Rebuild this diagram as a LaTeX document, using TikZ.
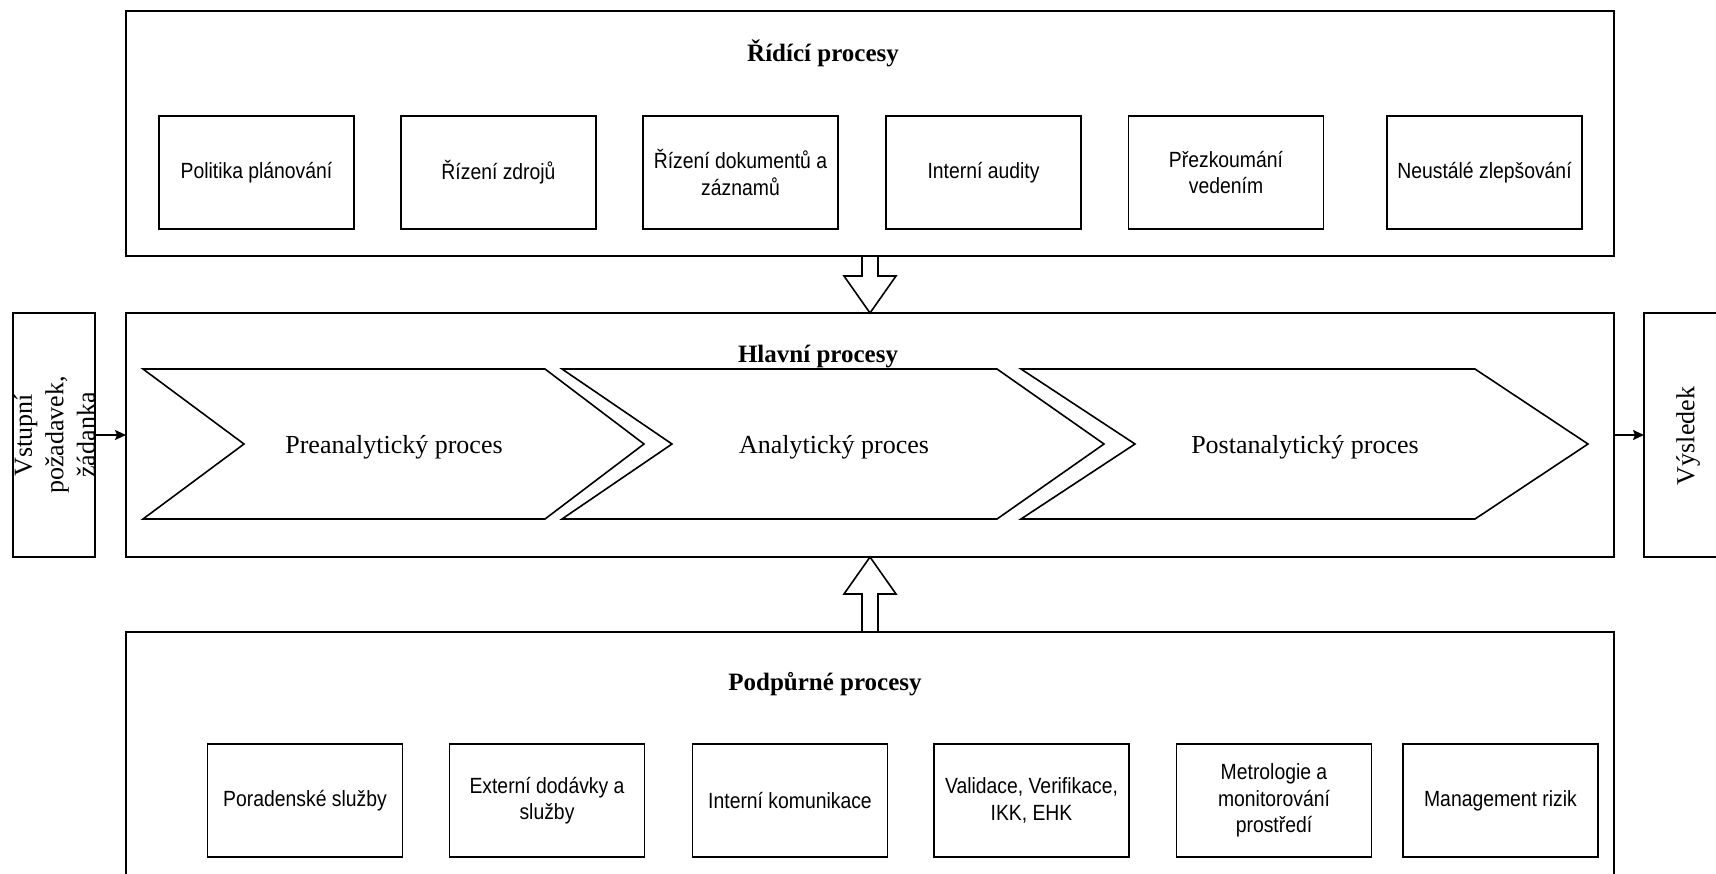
\documentclass[tikz,border=0pt]{standalone}
\usepackage{fontspec}
\setmainfont{Liberation Serif}
\newfontfamily\narrowsans[FakeStretch=0.88]{Liberation Sans}
\usetikzlibrary{arrows.meta,calc}
\begin{document}
\begin{tikzpicture}[x=1pt,y=-1pt,
  line width=1.6pt,
  outerbox/.style={draw, inner sep=0pt, outer sep=0pt, minimum width=1488pt},
  sidebox/.style={draw, inner sep=0pt, outer sep=0pt, minimum height=244pt},
  smallbox/.style={draw, inner sep=2pt, outer sep=0pt, minimum width=195pt, minimum height=113pt,
    align=center, font=\narrowsans\fontsize{22}{26.5}\selectfont},
  titletext/.style={inner sep=0pt, anchor=base, font=\bfseries\fontsize{25}{30}\selectfont},
  chevtext/.style={inner sep=0pt, anchor=base, font=\fontsize{26}{31}\selectfont},
  vtext/.style={inner sep=0pt, rotate=90, align=center, font=\fontsize{26}{31.5}\selectfont},
  chevron/.style={draw, line join=miter},
  blockarrow/.style={draw, fill=white, line join=miter},
  conn/.style={-{Stealth[length=11pt,width=10pt,inset=2pt]}}
]
\useasboundingbox (0,0) rectangle (1716,873);

% outer boxes
\node[outerbox, minimum height=245pt] (top) at (870,133.5) {};
\node[outerbox, minimum height=244pt] (main) at (870,435) {};
\node[outerbox, minimum height=268pt] (bottom) at (870,766) {};
\node[sidebox, minimum width=82pt] (inp) at (54,435) {};
\node[sidebox, minimum width=74pt] (out) at (1681,435) {};

% titles
\node[titletext] (ttop) at (823,61) {Řídící procesy};
\node[titletext] (tbot) at (825,690) {Podpůrné procesy};

% top small boxes
\node[smallbox] (r1) at (256.5,172.5) {Politika plánování};
\node[smallbox] (r2) at (498.5,172.5) {Řízení zdrojů};
\node[smallbox] (r3) at (740.5,172.5) {Řízení dokumentů a\\záznamů};
\node[smallbox] (r4) at (983.5,172.5) {Interní audity};
\node[smallbox] (r5) at (1226,172.5) {Přezkoumání\\vedením};
\node[smallbox] (r6) at (1484.5,172.5) {Neustálé zlepšování};

% bottom small boxes
\node[smallbox] (s1) at (305,800.5) {Poradenské služby};
\node[smallbox] (s2) at (547,800.5) {Externí dodávky a\\služby};
\node[smallbox] (s3) at (790,800.5) {Interní komunikace};
\node[smallbox] (s4) at (1031.5,800.5) {Validace, Verifikace,\\IKK, EHK};
\node[smallbox] (s5) at (1274,800.5) {Metrologie a\\monitorování\\prostředí};
\node[smallbox] (s6) at (1500.5,800.5) {Management rizik};

% chevrons
\draw[chevron] (143,369) -- (545,369) -- (644,444) -- (545,519) -- (143,519) -- (244,444) -- cycle;
\draw[chevron] (562,369) -- (997,369) -- (1104,444) -- (997,519) -- (562,519) -- (672,444) -- cycle;
\draw[chevron] (1021,369) -- (1475,369) -- (1588,444) -- (1475,519) -- (1021,519) -- (1135,444) -- cycle;
\node[chevtext] (pre) at (394,453) {Preanalytický proces};
\node[chevtext] (ana) at (834,453) {Analytický proces};
\node[chevtext] (post) at (1305,453) {Postanalytický proces};
\node[titletext] (tmain) at (818,362) {Hlavní procesy};

% side texts
\node[vtext] (inptext) at (54.5,435) {Vstupní\\požadavek,\\žádanka};
\node[vtext] (outtext) at (1688,436) {Výsledek};

% block arrows
\draw[blockarrow] ([xshift=-8pt]top.south) -- ++(0,20) -- ++(-18,0) -- (main.north)
  -- ++(26,-37) -- ++(-18,0) -- ([xshift=8pt]top.south) -- cycle;
\draw[blockarrow] ([xshift=-8pt]bottom.north) -- ++(0,-38) -- ++(-18,0) -- (main.south)
  -- ++(26,37) -- ++(-18,0) -- ([xshift=8pt]bottom.north) -- cycle;

% connectors
\draw[conn] (inp.east) -- (main.west);
\draw[conn] (main.east) -- (out.west);
\end{tikzpicture}
\end{document}
